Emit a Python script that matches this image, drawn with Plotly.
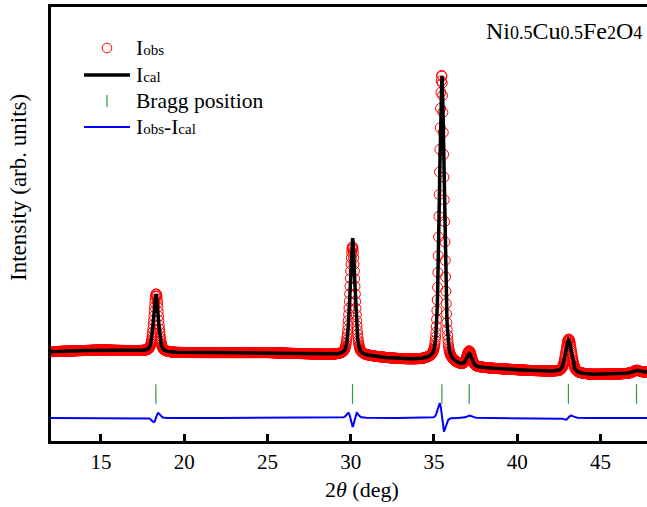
import numpy as np
import plotly.graph_objects as go

# Scan range of the diffractogram (degrees 2-theta)
scan_start = 12.0
scan_stop = 47.8
scan_step = 0.02

# Background level (counts) at a few 2-theta positions
bg_2theta = [12.0, 13.7, 15.0, 17.3, 19.3, 25.0, 27.4, 28.8, 31.2, 32.8,
             34.6, 36.7, 38.4, 40.8, 42.4, 44.4, 46.2, 47.8]
bg_counts = [893, 903, 910, 900, 883, 883, 870, 860, 843, 820,
             803, 745, 725, 703, 693, 665, 670, 690]

# Spinel reflections: Bragg positions and refined (calculated) peak parameters
bragg_2theta = [18.30, 30.11, 35.48, 37.12, 43.08, 47.17]
cal_height = [575, 1180, 2870, 125, 330, 25]
cal_fwhm = [0.34, 0.34, 0.34, 0.36, 0.42, 0.42]
cal_eta = [0.35, 0.35, 0.35, 0.35, 0.35, 0.35]

# Observed peak parameters
obs_center = [18.32, 30.11, 35.468, 37.12, 43.10, 47.17]
obs_height = [580, 1090, 2880, 150, 335, 25]
obs_fwhm = [0.34, 0.38, 0.34, 0.36, 0.42, 0.42]

# Vertical placement of the difference curve and the Bragg ticks
diff_offset = 230
bragg_level = 470

tick_vals = [15, 20, 25, 30, 35, 40, 45]


def pseudo_voigt(x, x0, h, w, eta):
    u = (x - x0) / w
    lor = 1.0 / (1.0 + 4.0 * u * u)
    gau = np.exp(-4.0 * np.log(2.0) * u * u)
    return h * (eta * lor + (1.0 - eta) * gau)


two_theta = np.arange(scan_start, scan_stop + 1e-9, scan_step)
background = np.interp(two_theta, bg_2theta, bg_counts)

i_cal = background.copy()
i_obs = background.copy()
for k in range(len(bragg_2theta)):
    i_cal += pseudo_voigt(two_theta, bragg_2theta[k], cal_height[k], cal_fwhm[k], cal_eta[k])
    i_obs += pseudo_voigt(two_theta, obs_center[k], obs_height[k], obs_fwhm[k], cal_eta[k])

i_diff = i_obs - i_cal + diff_offset

serif = "Liberation Serif"
RED, BLACK, GREEN, BLUE = "#ff0000", "#000000", "#2e9a3a", "#0000ff"

# Plot-area geometry in pixels, used to place the key and labels
W, H = 647, 507
L, R, T, B = 51, 0, 7, 66
pw, ph = W - L - R, H - T - B


def px(xp):
    return (xp - L) / pw


def py(yp):
    return (H - B - yp) / ph


def small(txt, size=15):
    return "<span style='font-size:%dpx'>%s</span>" % (size, txt)


fig = go.Figure()
fig.add_trace(go.Scatter(
    x=two_theta, y=i_obs, mode="markers", showlegend=False,
    marker=dict(symbol="circle-open", size=10, color=RED, line=dict(width=1, color=RED)),
    name="Iobs",
))
fig.add_trace(go.Scatter(
    x=two_theta, y=i_cal, mode="lines", showlegend=False,
    line=dict(color=BLACK, width=3.5), name="Ical",
))
fig.add_trace(go.Scatter(
    x=bragg_2theta, y=[bragg_level] * len(bragg_2theta), mode="markers", showlegend=False,
    marker=dict(symbol="line-ns", size=14, color=GREEN, line=dict(width=1.2, color=GREEN)),
    name="Bragg position",
))
fig.add_trace(go.Scatter(
    x=two_theta, y=i_diff, mode="lines", showlegend=False,
    line=dict(color=BLUE, width=2), name="Iobs-Ical",
))

# Key: symbols drawn as shapes, labels as annotations
key_rows = [48, 75, 101, 127]
key_labels = [
    "I" + small("obs"),
    "I" + small("cal"),
    "Bragg position",
    "I" + small("obs") + "-I" + small("cal"),
]
shapes = [
    dict(type="circle", xref="paper", yref="paper", xsizemode="pixel", ysizemode="pixel",
         xanchor=px(107), yanchor=py(key_rows[0]), x0=-4.8, x1=4.8, y0=-4.8, y1=4.8,
         line=dict(color=RED, width=1)),
    dict(type="line", xref="paper", yref="paper", x0=px(84), x1=px(130),
         y0=py(key_rows[1]), y1=py(key_rows[1]), line=dict(color=BLACK, width=3.5)),
    dict(type="line", xref="paper", yref="paper", x0=px(107), x1=px(107),
         y0=py(key_rows[2] - 6), y1=py(key_rows[2] + 6), line=dict(color=GREEN, width=1.2)),
    dict(type="line", xref="paper", yref="paper", x0=px(84), x1=px(130),
         y0=py(key_rows[3]), y1=py(key_rows[3]), line=dict(color=BLUE, width=2)),
]
annotations = [
    dict(text=lab, xref="paper", yref="paper", x=px(134), y=py(row),
         xanchor="left", yanchor="middle", showarrow=False,
         font=dict(family=serif, size=21.5, color=BLACK))
    for lab, row in zip(key_labels, key_rows)
]
annotations += [
    dict(
        text="Ni" + small("0.5", 18) + "Cu" + small("0.5", 18) + "Fe" + small("2", 18) + "O" + small("4", 18),
        xref="paper", yref="paper", x=px(644), y=py(31), xanchor="right", yanchor="middle",
        showarrow=False, font=dict(family=serif, size=24, color=BLACK),
    ),
    dict(
        text="Intensity (arb. units)",
        xref="paper", yref="paper", x=px(18), y=py(188), xanchor="center", yanchor="middle",
        textangle=-90, showarrow=False, font=dict(family=serif, size=23, color=BLACK),
    ),
    dict(
        text="2<i>θ</i> (deg)",
        xref="paper", yref="paper", x=px(362), y=py(490), xanchor="center", yanchor="middle",
        showarrow=False, font=dict(family=serif, size=22, color=BLACK),
    ),
]

fig.update_layout(
    width=W, height=H,
    margin=dict(l=L, r=R, t=T, b=B),
    paper_bgcolor="white", plot_bgcolor="white",
    font=dict(family=serif, size=21, color=BLACK),
    showlegend=False,
    xaxis=dict(
        range=[scan_start, scan_stop], tickvals=tick_vals,
        showline=True, linewidth=3, linecolor=BLACK, mirror=True,
        ticks="inside", ticklen=7, tickwidth=2.5, tickcolor=BLACK,
        showgrid=False, zeroline=False,
        tickfont=dict(family=serif, size=21),
    ),
    yaxis=dict(
        range=[0, 4340],
        showline=True, linewidth=3, linecolor=BLACK,
        showticklabels=False, ticks="", showgrid=False, zeroline=False,
    ),
    shapes=shapes,
    annotations=annotations,
)

fig.write_html("out.html")
